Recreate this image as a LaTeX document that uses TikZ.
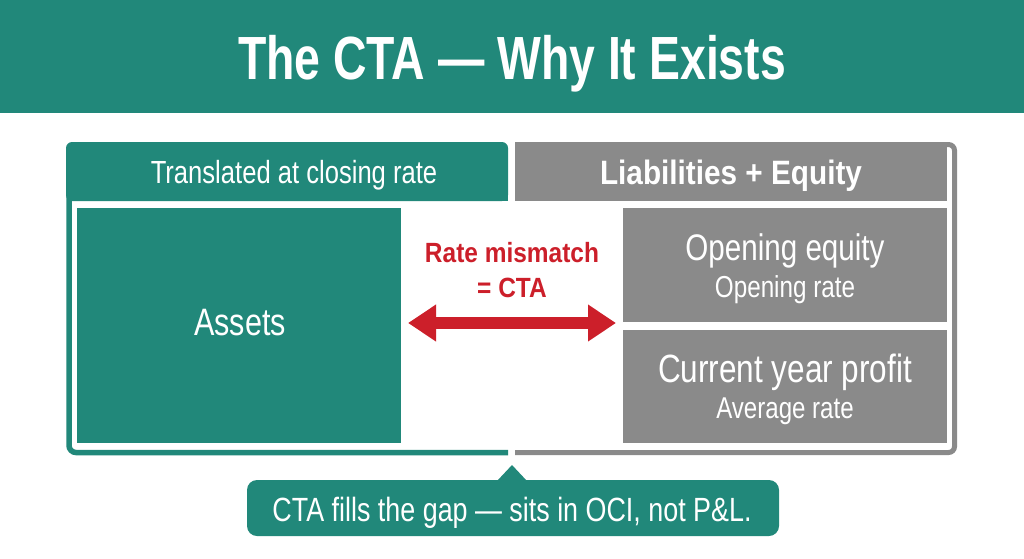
\documentclass[tikz,border=0pt]{standalone}
\usepackage{fontspec}
\setmainfont[FakeStretch=0.8]{Liberation Sans}
\newfontfamily\bcond[FakeStretch=0.88]{Liberation Sans}
\newfontfamily\tcond[FakeStretch=0.76]{Liberation Sans}
\usetikzlibrary{arrows.meta}
\definecolor{teal0}{RGB}{33,136,122}
\definecolor{gray0}{RGB}{138,138,138}
\definecolor{red0}{RGB}{204,31,42}
\newcommand{\fsz}[1]{\fontsize{#1}{#1}\selectfont}
\tikzset{
  txt/.style={anchor=base, inner sep=0pt, outer sep=0pt, text=white},
  panel/.style={anchor=north west, inner sep=0pt, outer sep=0pt, draw=none},
}
\begin{document}
\begin{tikzpicture}[x=1pt,y=-1pt]
\useasboundingbox (0,0) rectangle (1024,558);
\fill[white] (0,0) rectangle (1024,558);
% header band
\fill[teal0] (0,0) rectangle (1024,113);
\node[txt, font=\tcond\bfseries\fsz{61}] (title) at (512,79) {The CTA — Why It Exists};

% left frame
\fill[teal0, rounded corners=6pt] (66,142) rectangle (508,201);
\fill[teal0] (300,170) rectangle (508,201);
\draw[teal0, line width=5.5pt, rounded corners=7pt] (508,452.5) -- (69,452.5) -- (69,150);
\node[txt, font=\fsz{32}] (lhead) at (294,183) {Translated at closing rate};

% right frame
\fill[gray0] (515,142) rectangle (947,201);
\draw[gray0, line width=5pt, rounded corners=6pt] (515,452.5) -- (954.5,452.5) -- (954.5,144.5) -- (935,144.5);
\node[txt, font=\bcond\bfseries\fsz{33.8}] (rhead) at (731,184) {Liabilities + Equity};

% boxes
\node[panel, fill=teal0, minimum width=324pt, minimum height=235pt] (assets) at (77,208) {};
\node[txt, font=\fsz{38.2}] (assetsT) at (240,335) {Assets};

\node[panel, fill=gray0, minimum width=324pt, minimum height=114pt] (open) at (623,208) {};
\node[txt, font=\fsz{37}] (openT) at (785,260) {Opening equity};
\node[txt, font=\fsz{30.3}] (openS) at (785,297) {Opening rate};

\node[panel, fill=gray0, minimum width=324pt, minimum height=113pt] (cur) at (623,330) {};
\node[txt, font=\fsz{39.4}] (curT) at (785,382) {Current year profit};
\node[txt, font=\fsz{30.1}] (curS) at (785,418) {Average rate};

% mismatch
\node[txt, text=red0, font=\bcond\bfseries\fsz{27.8}] (mis1) at (512,262) {Rate mismatch};
\node[txt, text=red0, font=\bcond\bfseries\fsz{27.8}] (mis2) at (512,297) {= CTA};
\coordinate (aL) at (408,323);
\coordinate (aR) at (616,323);
\draw[red0, line width=12pt, {Triangle[length=28pt,width=35pt]}-{Triangle[length=28pt,width=35pt]}] (aL) -- (aR);

% callout
\node[panel, fill=teal0, rounded corners=10pt, minimum width=532pt, minimum height=56pt] (callout) at (247,480) {};
\coordinate (tip) at (512,465);
\fill[teal0] (497,481) -- (tip) -- (527,481) -- cycle;
\node[txt, font=\fsz{33.6}] (calloutT) at (512,521) {CTA fills the gap — sits in OCI, not P\&L.};
\end{tikzpicture}
\end{document}
